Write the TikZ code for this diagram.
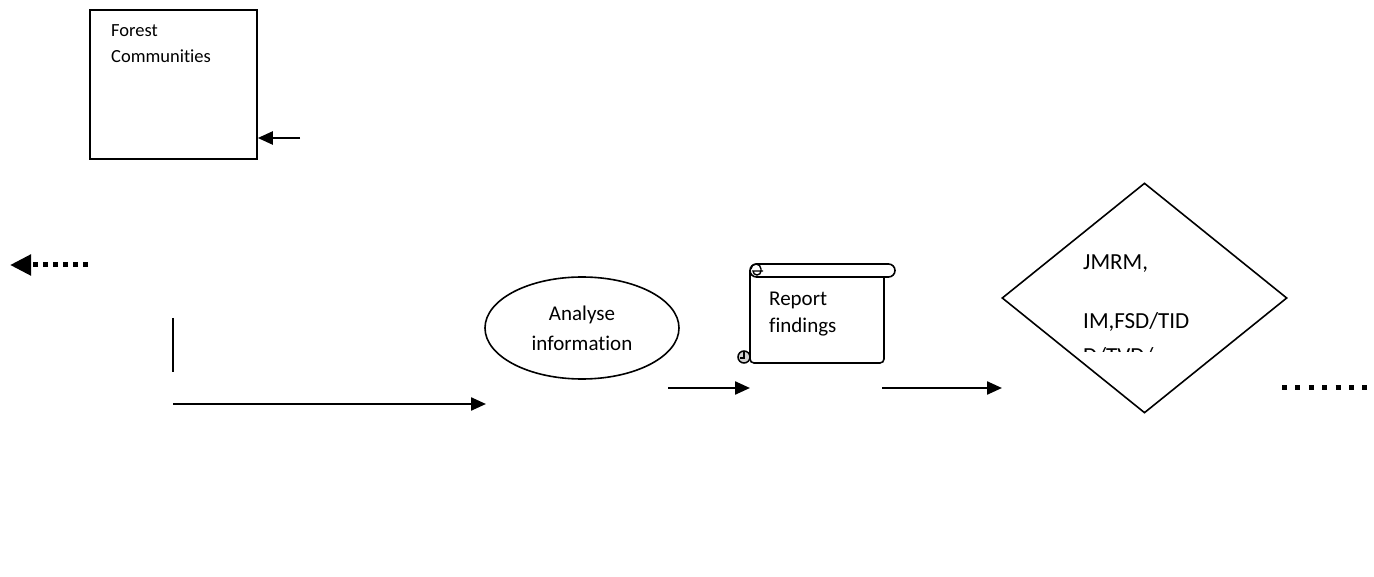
\documentclass[tikz,border=0pt]{standalone}
\usepackage{fontspec}
\setmainfont{Carlito}[Ligatures=NoCommon]
\usetikzlibrary{arrows.meta,positioning,shapes.geometric}

\begin{document}
\begin{tikzpicture}[
  x=1pt, y=-1pt,
  >={Triangle[length=15pt,width=13pt]},
  % Styles
  blk/.style={draw, line width=1.6pt, inner sep=0pt},
  txt/.style={inner sep=0pt, anchor=base west, font=\fontsize{18.5}{22}\selectfont},
  bigtxt/.style={inner sep=0pt, anchor=base west, font=\fontsize{23}{28}\selectfont},
  flow/.style={->, line width=2.3pt},
  dots/.style={line width=5pt, dash pattern=on 5pt off 5pt}
]
\useasboundingbox (0,0) rectangle (1374,577);

% --- 1. Forest Communities ---
\node[blk, rectangle, minimum width=167pt, minimum height=149pt] (forest) at (173.5,84.5) {};
\node[txt] (forestA) at (111,37) {Forest};
\node[txt] (forestB) at (111,63) {Communities};
\coordinate (inA) at (300,138);
\draw[flow] (inA) -- (inA -| forest.east);

% --- 2. Dotted arrow to the left ---
\coordinate (dotA) at (88,265);
\coordinate (dotB) at (10,265);
\draw[dots, -{Triangle[length=21pt,width=20pt]}] (dotA) -- (dotB);

% --- 3. Lines to Analyse ---
\coordinate (vA) at (173,318);
\coordinate (vB) at (173,372);
\draw[line width=2pt] (vA) -- (vB);

\node[blk, ellipse, minimum width=194pt, minimum height=102pt, align=center,
      font=\fontsize{21}{30}\selectfont] (analyse) at (582,328) {Analyse\\information};
\coordinate (hA) at (173,404);
\coordinate (hB) at (486,404);
\draw[flow] (hA) -- (hB);

% --- 4. Report findings (scroll) ---
\coordinate (scrollTL) at (750,264);
\draw[line width=1.6pt, rounded corners=6.5pt] (750,264) rectangle (895,277);
\draw[line width=1.4pt] (763,271) -- (753,271) arc (180:360:4pt) -- (761,269) arc (0:180:5pt);
\draw[line width=1.6pt, rounded corners=4pt] (750,271) -- (750,363) -- (884,363) -- (884,277);
\draw[line width=1.5pt, fill=gray!35] (744,357) circle (6pt);
\draw[line width=1.3pt] (744,352) -- (744,358) -- (740,358);
\node[txt, font=\fontsize{21}{26}\selectfont] (repA) at (769,306) {Report};
\node[txt, font=\fontsize{21}{26}\selectfont] (repB) at (769,333) {findings};

\coordinate (rA) at (668,388);
\coordinate (rB) at (750,388);
\draw[flow] (rA) -- (rB);
\coordinate (dA) at (882,388);
\draw[flow] (dA) -- (1002,388);

% --- 5. Decision ---
\node[blk, diamond, minimum width=285pt, minimum height=230pt] (jmrm) at (1144.5,298) {};
\node[bigtxt] (jmrmA) at (1083,270) {JMRM,};
\node[bigtxt] (jmrmB) at (1083,329) {IM,FSD/TID};
\begin{scope}
  \clip (1070,330) rectangle (1220,352);
  \node[bigtxt] (jmrmC) at (1083,363) {D/TVD/};
\end{scope}

% --- 6. Dotted continuation ---
\coordinate (eA) at (1282,387);
\coordinate (eB) at (1368,387);
\draw[line width=5pt, dash pattern=on 5pt off 8.4pt] (eA) -- (eB);

\end{tikzpicture}
\end{document}
